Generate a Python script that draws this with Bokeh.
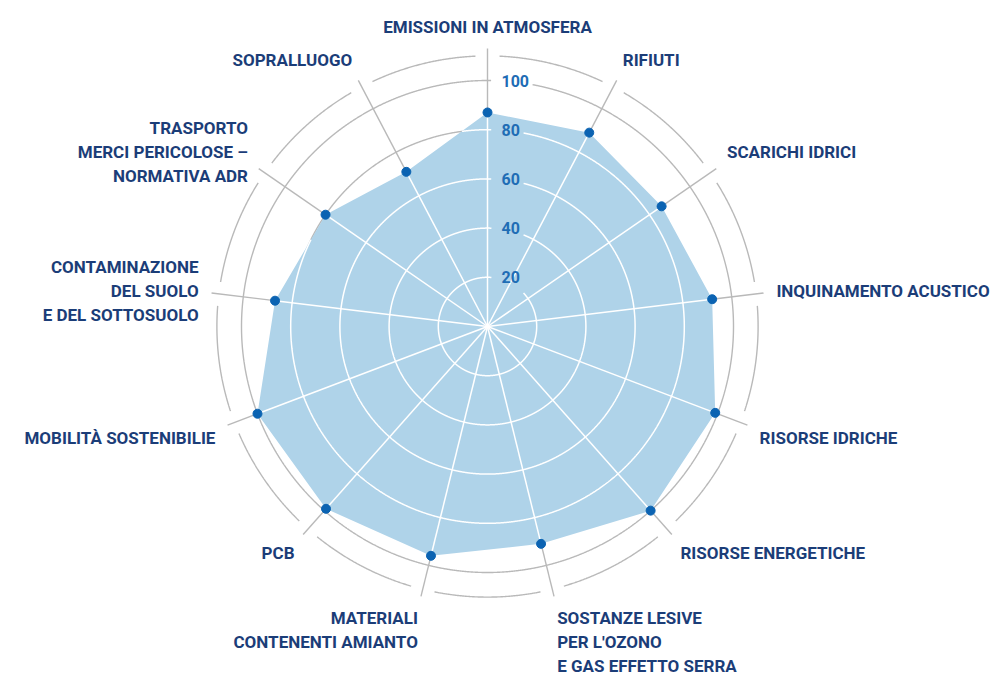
import numpy as np
from bokeh.plotting import figure
from bokeh.models import Range1d
from bokeh.embed import file_html
from bokeh.resources import INLINE
from bokeh.core.properties import value

# ---------------- data ----------------
categories = [
    "EMISSIONI IN ATMOSFERA",
    "RIFIUTI",
    "SCARICHI IDRICI",
    "INQUINAMENTO ACUSTICO",
    "RISORSE IDRICHE",
    "RISORSE ENERGETICHE",
    "SOSTANZE LESIVE\nPER L'OZONO\nE GAS EFFETTO SERRA",
    "MATERIALI\nCONTENENTI AMIANTO",
    "PCB",
    "MOBILITÀ SOSTENIBILIE",
    "CONTAMINAZIONE\nDEL SUOLO\nE DEL SOTTOSUOLO",
    "TRASPORTO\nMERCI PERICOLOSE –\nNORMATIVA ADR",
    "SOPRALLUOGO",
]
scores = [87, 89, 86, 92, 99, 100, 91, 96, 99, 100, 87, 80, 71]
ring_values = [20, 40, 60, 80, 100]
tick_labels = ["20", "40", "60", "80", "100"]

# ---------------- style / layout ----------------
W, H = 992, 677
S = 2.46                 # pixels per value unit
CX, CY = 487, 326        # centre of the radar in figure pixels
OUTER_RING = 110
SPOKE_END = 113
LABEL_R_PX = 291
LINE_H_PX = 24

FILL = "#afd3e9"
GREY = "#b9b9b9"
WHITE = "#ffffff"
DOT = "#0b63b2"
NAVY = "#1b3d78"
TICK = "#1f6db5"
FONT = "Roboto"


def u(px):
    return px / S


p = figure(width=W, height=H, output_backend="svg", toolbar_location=None,
           x_axis_type=None, y_axis_type=None,
           x_range=Range1d(-u(CX), u(W - CX)), y_range=Range1d(-u(H - CY), u(CY)),
           min_border=0, outline_line_color=None, background_fill_color="white",
           border_fill_color="white")
p.grid.visible = False

N = len(categories)
vals = np.array(scores, dtype=float)
theta = np.arange(N) * 2 * np.pi / N          # clockwise from the top
vx = vals * np.sin(theta)
vy = vals * np.cos(theta)


def boundary_radius(phi):
    step = 2 * np.pi / N
    i = np.floor(phi / step).astype(int) % N
    j = (i + 1) % N
    px_, py_ = vx[i], vy[i]
    ex, ey = vx[j] - vx[i], vy[j] - vy[i]
    dx, dy = np.sin(phi), np.cos(phi)
    return (px_ * ey - py_ * ex) / (dx * ey - dy * ex)


def runs(mask, xs, ys):
    segs_x, segs_y = [], []
    cur_x, cur_y = [], []
    for m, a, b in zip(mask, xs, ys):
        if m:
            cur_x.append(a)
            cur_y.append(b)
        elif cur_x:
            segs_x.append(cur_x)
            segs_y.append(cur_y)
            cur_x, cur_y = [], []
    if cur_x:
        segs_x.append(cur_x)
        segs_y.append(cur_y)
    return segs_x, segs_y


phi = np.linspace(0, 2 * np.pi, 3001)
Rb = boundary_radius(phi % (2 * np.pi))

grey_x, grey_y, white_x, white_y = [], [], [], []
for r, t in zip(ring_values, tick_labels):
    rpx = r * S
    g0 = np.arcsin(min(4 / rpx, 1.0))
    g1 = np.arcsin(min((14 + len(t) * 9 + 4) / rpx, 1.0))
    gap = (phi >= g0) & (phi <= g1)
    xs = r * np.sin(phi)
    ys = r * np.cos(phi)
    a, b = runs(~gap, xs, ys)
    grey_x += a
    grey_y += b
    a, b = runs((~gap) & (Rb > r), xs, ys)
    white_x += a
    white_y += b

# outer broken ring
delta = 12 / (OUTER_RING * S)
for i in range(N):
    ph = np.linspace(theta[i] + delta, theta[i] + 2 * np.pi / N - delta, 120)
    grey_x.append(list(OUTER_RING * np.sin(ph)))
    grey_y.append(list(OUTER_RING * np.cos(ph)))

# spokes
for i in range(N):
    grey_x.append([0, SPOKE_END * np.sin(theta[i])])
    grey_y.append([0, SPOKE_END * np.cos(theta[i])])
    white_x.append([0, vx[i]])
    white_y.append([0, vy[i]])

p.multi_line(grey_x, grey_y, line_color=GREY, line_width=1.4)
p.patch(list(vx), list(vy), fill_color=FILL, line_color=None)
p.multi_line(white_x, white_y, line_color=WHITE, line_width=1.5)
p.scatter(list(vx), list(vy), size=9, fill_color=DOT, line_color=DOT)

# tick labels
p.text(x=[u(14)] * len(ring_values), y=ring_values, text=tick_labels,
       text_font=value(FONT), text_font_style="bold", text_font_size="16px",
       text_color=TICK, text_align="left", text_baseline="middle")

# category labels
tx, ty, tt, ta = [], [], [], []
for i, lab in enumerate(categories):
    sx, cy = np.sin(theta[i]), np.cos(theta[i])
    ax, ay = u(LABEL_R_PX) * sx, u(LABEL_R_PX) * cy
    align = "left" if sx > 0.1 else ("right" if sx < -0.1 else "center")
    lines = lab.split("\n")
    n = len(lines)
    for k, line in enumerate(lines):
        if abs(cy) < 0.2:
            yk = ay + ((n - 1) / 2 - k) * u(LINE_H_PX)
        elif cy >= 0.2:
            yk = ay + u(9) + ((n - 1) / 2 - k) * u(LINE_H_PX)
        else:
            yk = ay - u(8.5) - k * u(LINE_H_PX)
        tx.append(ax)
        ty.append(yk)
        tt.append(line)
        ta.append(align)

for al in ("left", "right", "center"):
    idx = [j for j, a in enumerate(ta) if a == al]
    if not idx:
        continue
    p.text(x=[tx[j] for j in idx], y=[ty[j] for j in idx], text=[tt[j] for j in idx],
           text_font=value(FONT), text_font_style="bold", text_font_size="17px",
           text_color=NAVY, text_align=al, text_baseline="middle")

open("out.html", "w").write(file_html(p, INLINE))
